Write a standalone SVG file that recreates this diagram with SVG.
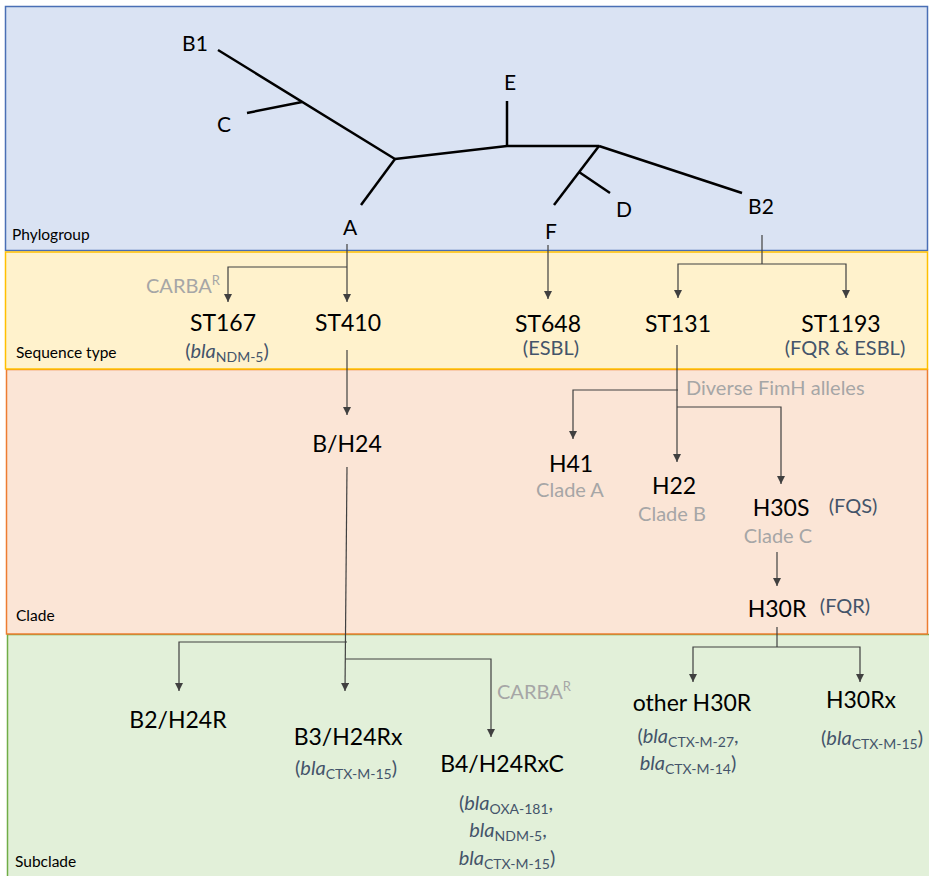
<svg xmlns="http://www.w3.org/2000/svg" width="929" height="876" viewBox="0 0 929 876">
<style>
text{font-family:Lato,"Open Sans","Liberation Sans",sans-serif}
.lbl{font-size:23px;fill:#000;text-anchor:middle}
.tree{font-size:21px;fill:#000;text-anchor:middle}
.band{font-size:15.5px;fill:#000}
.note{font-size:20px;fill:#A6A6A6}
.res{font-size:20px;fill:#44546A;text-anchor:middle}
.it{font-style:italic}
.sub{font-size:14px}
.sup{font-size:13px}
.con{fill:none;stroke:#404040;stroke-width:1.2}
.br{fill:none;stroke:#000;stroke-width:2.5}
</style>
<defs>
<marker id="ah" viewBox="0 0 8 8" refX="8" refY="4" markerWidth="8" markerHeight="8" markerUnits="userSpaceOnUse" orient="auto">
<path d="M0,0 L8,4 L0,8 z" fill="#404040"/>
</marker>
</defs>
<g id="bands">
<rect id="band-phylogroup" x="5.5" y="6.5" width="922" height="244" fill="#DAE3F3" stroke="#4A6FB5" stroke-width="1.5"/>
<rect id="band-subclade" x="7.5" y="634.5" width="923" height="250" fill="#E2F0D9" stroke="#70AD47" stroke-width="1.5"/>
<rect id="band-clade" x="6.5" y="369.5" width="921" height="264.5" fill="#FBE5D6" stroke="#ED7D31" stroke-width="1.5"/>
<rect id="band-st" x="5.5" y="252" width="922" height="117" fill="#FFF2CC" stroke="#FFC000" stroke-width="1.5"/>
<text class="band" x="12" y="240">Phylogroup</text>
<text class="band" x="16" y="358">Sequence type</text>
<text class="band" x="16" y="621">Clade</text>
<text class="band" x="15" y="867">Subclade</text>
</g>
<g id="tree">
<path class="br" d="M218,50 L395,159"/>
<path class="br" d="M247,113 L302,102"/>
<path class="br" d="M395,159 L361,205"/>
<path class="br" d="M395,159 L507,146 L599,146"/>
<path class="br" d="M507,146 V101"/>
<path class="br" d="M599,146 L742,193"/>
<path class="br" d="M599,146 L554,205"/>
<path class="br" d="M579,172 L610,193"/>
<text class="tree" x="195" y="51">B1</text>
<text class="tree" x="224" y="132">C</text>
<text class="tree" x="350" y="235">A</text>
<text class="tree" x="510" y="90">E</text>
<text class="tree" x="551" y="239">F</text>
<text class="tree" x="624" y="217">D</text>
<text class="tree" x="761" y="214">B2</text>
</g>
<g id="connectors">
<path class="con" d="M347,244 V302" marker-end="url(#ah)"/>
<path class="con" d="M347,267 H228 V302" marker-end="url(#ah)"/>
<path class="con" d="M548,245 V299" marker-end="url(#ah)"/>
<path class="con" d="M762,235 V264"/>
<path class="con" d="M762,264 H678 V298" marker-end="url(#ah)"/>
<path class="con" d="M762,264 H846 V298" marker-end="url(#ah)"/>
<path class="con" d="M347,350 V415" marker-end="url(#ah)"/>
<path class="con" d="M677,345 V462" marker-end="url(#ah)"/>
<path class="con" d="M678,390 H573 V439" marker-end="url(#ah)"/>
<path class="con" d="M677,407 H781 V484" marker-end="url(#ah)"/>
<path class="con" d="M777,552 V586" marker-end="url(#ah)"/>
<path class="con" d="M777,627 V647"/>
<path class="con" d="M777,647 H693 V682" marker-end="url(#ah)"/>
<path class="con" d="M777,647 H860 V682" marker-end="url(#ah)"/>
<path class="con" d="M347,467 L345,691" marker-end="url(#ah)"/>
<path class="con" d="M347,642 H179 V691" marker-end="url(#ah)"/>
<path class="con" d="M345,659 H491 V737" marker-end="url(#ah)"/>
</g>
<g id="notes">
<text class="note" x="146" y="293">CARBA<tspan class="sup" dy="-8">R</tspan></text>
<text class="note" x="686" y="395">Diverse FimH alleles</text>
<text class="note" x="497" y="699">CARBA<tspan class="sup" dy="-8">R</tspan></text>
</g>
<g id="ST167">
<text class="lbl" x="223" y="331">ST167</text>
<text class="res" x="227" y="358">(<tspan class="it">bla</tspan><tspan class="sub" dy="4">NDM-5</tspan><tspan dy="-4">)</tspan></text>
</g>
<g id="ST410"><text class="lbl" x="348" y="331">ST410</text></g>
<g id="ST648">
<text class="lbl" x="548" y="332">ST648</text>
<text class="res" x="551" y="355">(ESBL)</text>
</g>
<g id="ST131"><text class="lbl" x="678" y="332">ST131</text></g>
<g id="ST1193">
<text class="lbl" x="841" y="332">ST1193</text>
<text class="res" x="845" y="355">(FQR &amp; ESBL)</text>
</g>
<g id="BH24"><text class="lbl" x="347" y="452">B/H24</text></g>
<g id="H41">
<text class="lbl" x="571" y="472">H41</text>
<text class="note" x="570" y="497" text-anchor="middle">Clade A</text>
</g>
<g id="H22">
<text class="lbl" x="674" y="494">H22</text>
<text class="note" x="672" y="521" text-anchor="middle">Clade B</text>
</g>
<g id="H30S">
<text class="lbl" x="781" y="516">H30S</text>
<text class="res" x="853" y="513">(FQS)</text>
<text class="note" x="778" y="543" text-anchor="middle">Clade C</text>
</g>
<g id="H30R">
<text class="lbl" x="777" y="617">H30R</text>
<text class="res" x="845" y="613">(FQR)</text>
</g>
<g id="B2H24R"><text class="lbl" x="178" y="728">B2/H24R</text></g>
<g id="B3H24Rx">
<text class="lbl" x="348" y="745">B3/H24Rx</text>
<text class="res" x="346" y="775">(<tspan class="it">bla</tspan><tspan class="sub" dy="4">CTX-M-15</tspan><tspan dy="-4">)</tspan></text>
</g>
<g id="B4H24RxC">
<text class="lbl" x="502" y="772">B4/H24RxC</text>
<text class="res" x="506" y="810">(<tspan class="it">bla</tspan><tspan class="sub" dy="4">OXA-181</tspan><tspan dy="-4">,</tspan></text>
<text class="res" x="508" y="837"><tspan class="it">bla</tspan><tspan class="sub" dy="4">NDM-5</tspan><tspan dy="-4">,</tspan></text>
<text class="res" x="507" y="865"><tspan class="it">bla</tspan><tspan class="sub" dy="4">CTX-M-15</tspan><tspan dy="-4">)</tspan></text>
</g>
<g id="otherH30R">
<text class="lbl" x="692" y="711">other H30R</text>
<text class="res" x="688" y="743">(<tspan class="it">bla</tspan><tspan class="sub" dy="4">CTX-M-27</tspan><tspan dy="-4">,</tspan></text>
<text class="res" x="688" y="770"><tspan class="it">bla</tspan><tspan class="sub" dy="4">CTX-M-14</tspan><tspan dy="-4">)</tspan></text>
</g>
<g id="H30Rx">
<text class="lbl" x="861" y="708">H30Rx</text>
<text class="res" x="872" y="745">(<tspan class="it">bla</tspan><tspan class="sub" dy="4">CTX-M-15</tspan><tspan dy="-4">)</tspan></text>
</g>
</svg>
